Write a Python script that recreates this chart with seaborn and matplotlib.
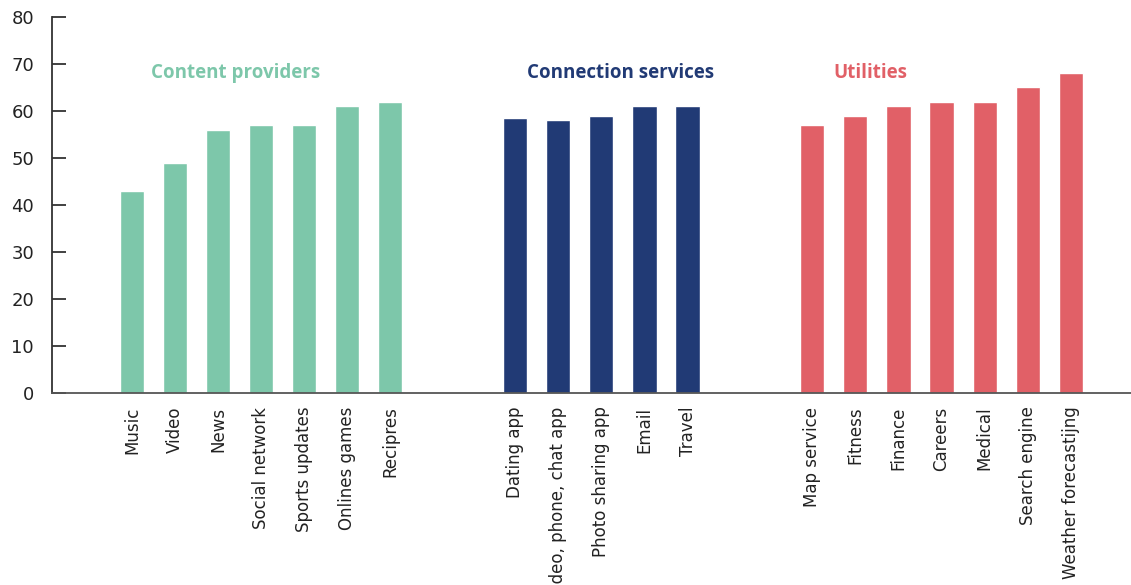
import numpy as np
import pandas as pd
import matplotlib
matplotlib.use("Agg")
import matplotlib.pyplot as plt
import seaborn as sns

# Category labels and values per group
content_labels = ["Music", "Video", "News", "Social network", "Sports updates",
                  "Onlines games", "Recipres"]
content_values = [43, 49, 56, 57, 57, 61, 62]

connection_labels = ["Dating app", "Video, phone, chat app", "Photo sharing app",
                     "Email", "Travel"]
connection_values = [58.5, 58, 59, 61, 61]

utility_labels = ["Map service", "Fitness", "Finance", "Careers", "Medical",
                  "Search engine", "Weather forecastijng"]
utility_values = [57, 59, 61, 62, 62, 65, 68]

group_names = ["Content providers", "Connection services", "Utilities"]
group_colors = ["#7DC7AA", "#213A75", "#E16067"]
y_ticks = [0, 10, 20, 30, 40, 50, 60, 70, 80]

# Build a long table; groups are separated by a gap on a numeric x scale
GAP = 2.9
rows = []
start = 0.0
groups = [(content_labels, content_values),
          (connection_labels, connection_values),
          (utility_labels, utility_values)]
for name, (labels, values) in zip(group_names, groups):
    xs = [start + i for i in range(len(labels))]
    for x, lab, v in zip(xs, labels, values):
        rows.append({"x": x, "label": lab, "value": v, "group": name})
    start = xs[-1] + GAP
df = pd.DataFrame(rows)

sns.set_style("white")
plt.rcParams["font.family"] = ["DejaVu Sans"]

fig = plt.figure(figsize=(11.31, 5.85), dpi=100)
ax = fig.add_axes([52 / 1131, (585 - 392.7) / 585, 1 - 52 / 1131, (392.7 - 17) / 585])

sns.barplot(data=df, x="x", y="value", hue="group", native_scale=True,
            palette=dict(zip(group_names, group_colors)), width=0.56,
            dodge=False, legend=False, saturation=1, ax=ax)

ax.set_xlim(-1.86, 23.2)
ax.set_ylim(0, 80)
ax.set_yticks(y_ticks)
ax.set_yticklabels([str(t) for t in y_ticks])
ax.set_xticks(df["x"])
ax.set_xticklabels(df["label"], rotation=90, va="top", ha="center")
ax.set_xlabel("")
ax.set_ylabel("")

for s in ["top", "right"]:
    ax.spines[s].set_visible(False)
ax.spines["left"].set_color("#333333")
ax.spines["left"].set_linewidth(1.3)
ax.spines["bottom"].set_color("#555555")
ax.spines["bottom"].set_linewidth(1.3)

ax.tick_params(axis="y", left=True, direction="in", length=10, width=1.3,
               color="#333333", pad=13, labelsize=13, labelcolor="#222222")
ax.tick_params(axis="x", bottom=False, length=0, pad=10, labelsize=12,
               labelcolor="#222222")

# Group headings above each cluster of bars
heading_x = [236, 621, 870.5]
for name, color, hx in zip(group_names, group_colors, heading_x):
    fig.text(hx / 1131, 1 - 73 / 585, name, color=color, ha="center", va="center",
             fontsize=13.5, fontweight="bold", family=["Open Sans", "DejaVu Sans"])

fig.savefig("out.png", dpi=100)
